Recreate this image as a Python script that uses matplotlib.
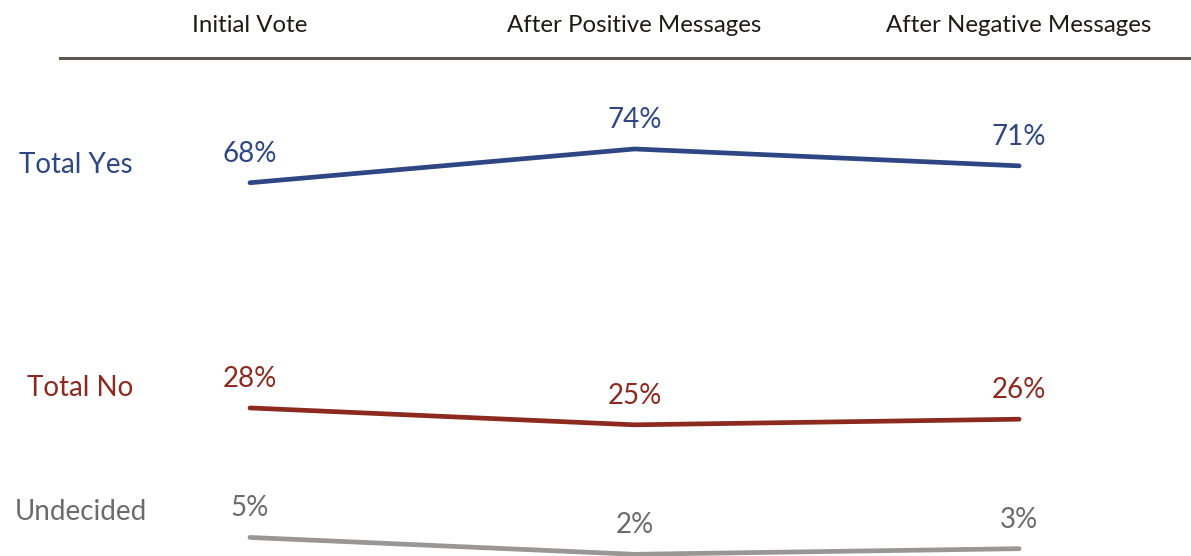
import matplotlib.pyplot as plt
from matplotlib.lines import Line2D

# Data
stages = ['Initial Vote', 'After Positive Messages', 'After Negative Messages']
yes_vals = [68, 74, 71]
no_vals = [28, 25, 26]
undecided_vals = [5, 2, 3]
row_names = ['Total Yes', 'Total No', 'Undecided']

# Colours
c_yes = '#2E4784'
c_no = '#8C2A1F'
c_und_line = '#9A9696'
c_und_text = '#6B6B6B'
c_head = '#1E1A18'
c_rule = '#5E5751'

plt.rcParams['font.family'] = ['Lato', 'DejaVu Sans']

fig = plt.figure(figsize=(11.91, 5.56), dpi=100)
ax = fig.add_axes([0, 0, 1, 1])
ax.set_xlim(-0.650, 2.447)
ax.set_ylim(1.7, 100.46)
ax.axis('off')

x = list(range(len(stages)))
series = [(yes_vals, c_yes, c_yes), (no_vals, c_no, c_no), (undecided_vals, c_und_line, c_und_text)]
for vals, lc, tc in series:
    ax.plot(x, vals, color=lc, lw=3.4, solid_capstyle='round', solid_joinstyle='round', clip_on=False)
    for xi, v in zip(x, vals):
        ax.annotate(f'{v}%', (xi, v), xytext=(0, 21), textcoords='offset points',
                    ha='center', va='center', fontsize=20, color=tc)

# Column headers
trans = ax.get_xaxis_transform()
for xi, s in zip(x, stages):
    ax.text(xi, 0.955, s, transform=trans, ha='center', va='center', fontsize=17.3, color=c_head)

# Rule under headers
fig.add_artist(Line2D([0.05, 1.0], [0.896, 0.896], color=c_rule, lw=2.2, transform=fig.transFigure))

# Row labels
row_x = [0.064, 0.067, 0.068]
row_y = [0.703, 0.302, 0.079]
row_c = [c_yes, c_no, c_und_text]
for name, xx, yy, cc in zip(row_names, row_x, row_y, row_c):
    fig.text(xx, yy, name, ha='center', va='center', fontsize=20, color=cc)

fig.savefig('out.png', dpi=100)
